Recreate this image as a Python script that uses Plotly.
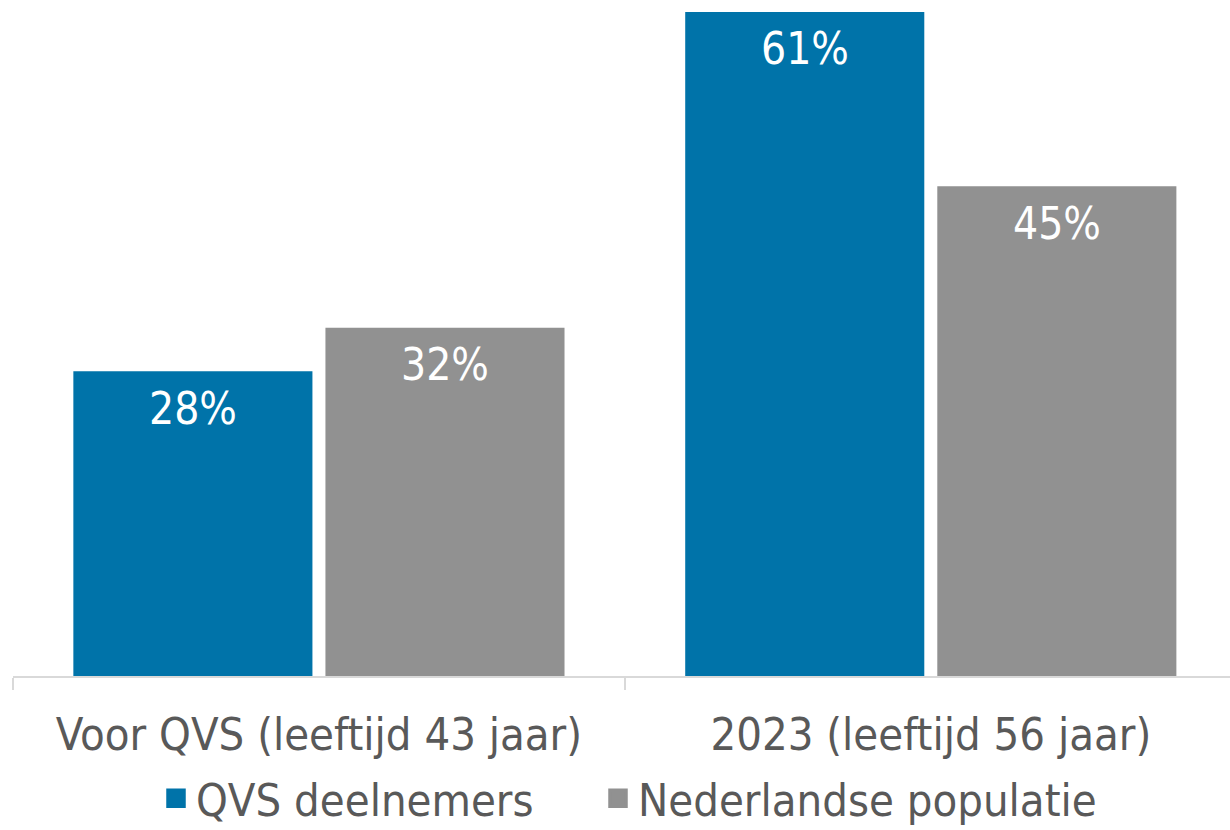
import plotly.graph_objects as go

categories = ["Voor QVS (leeftijd 43 jaar)", "2023 (leeftijd 56 jaar)"]
qvs_values = [28, 61]
nl_values = [32, 45]
series_names = ["QVS deelnemers", "Nederlandse populatie"]
colors = ["#0073A9", "#919191"]

FONT = "Liberation Sans Narrow, DejaVu Sans Condensed, sans-serif"

fig = go.Figure()
for name, vals, col in zip(series_names, [qvs_values, nl_values], colors):
    fig.add_trace(go.Bar(
        x=categories, y=vals, name=name, marker=dict(color=col, line=dict(width=0)),
        hoverinfo="skip", showlegend=False, legendgroup=name,
    ))
# legend entries with larger square swatches, each in its own legend box
legend_ids = ["legend", "legend2"]
for name, col, lg in zip(series_names, colors, legend_ids):
    fig.add_trace(go.Scatter(
        x=[None], y=[None], mode="markers", name=name, legendgroup=name, legend=lg,
        marker=dict(symbol="square", size=16, color=col, line=dict(width=3.5, color=col)),
        hoverinfo="skip",
    ))

# value labels inside bars, near top
shifts = [-126, 126]
for vals, dx in zip([qvs_values, nl_values], shifts):
    for c, v in zip(categories, vals):
        fig.add_annotation(x=c, y=v, text=f"{v}%", showarrow=False,
                           xshift=dx, yshift=-37, yanchor="middle",
                           font=dict(family=FONT, size=44, color="white"))

leg_common = dict(orientation="h", xref="container", yref="container",
                  xanchor="left", y=0.038, yanchor="middle",
                  font=dict(size=45, color="#595959"), itemwidth=30,
                  itemsizing="trace")

fig.update_layout(
    width=1230, height=830,
    margin=dict(l=13, r=0, t=0, b=154),
    paper_bgcolor="white", plot_bgcolor="white",
    barmode="group", bargap=0.176, bargroupgap=0.0516,
    font=dict(family=FONT, color="#595959", size=45),
    showlegend=True,
    legend=dict(x=156 / 1230, **leg_common),
    legend2=dict(x=598 / 1230, **leg_common),
    xaxis=dict(range=[-0.5, 1.489], showline=True, linecolor="#D9D9D9", linewidth=2,
               ticks="outside", tickson="boundaries", ticklen=12, tickcolor="#D9D9D9",
               tickwidth=2, tickfont=dict(size=45, color="#595959"), showgrid=False,
               zeroline=False, ticklabelstandoff=18),
    yaxis=dict(range=[0, 62.1], visible=False, showgrid=False, zeroline=False),
)

fig.write_html("out.html", config={"displayModeBar": False},
               post_script="document.body.style.margin='0';document.body.style.overflow='hidden';")
